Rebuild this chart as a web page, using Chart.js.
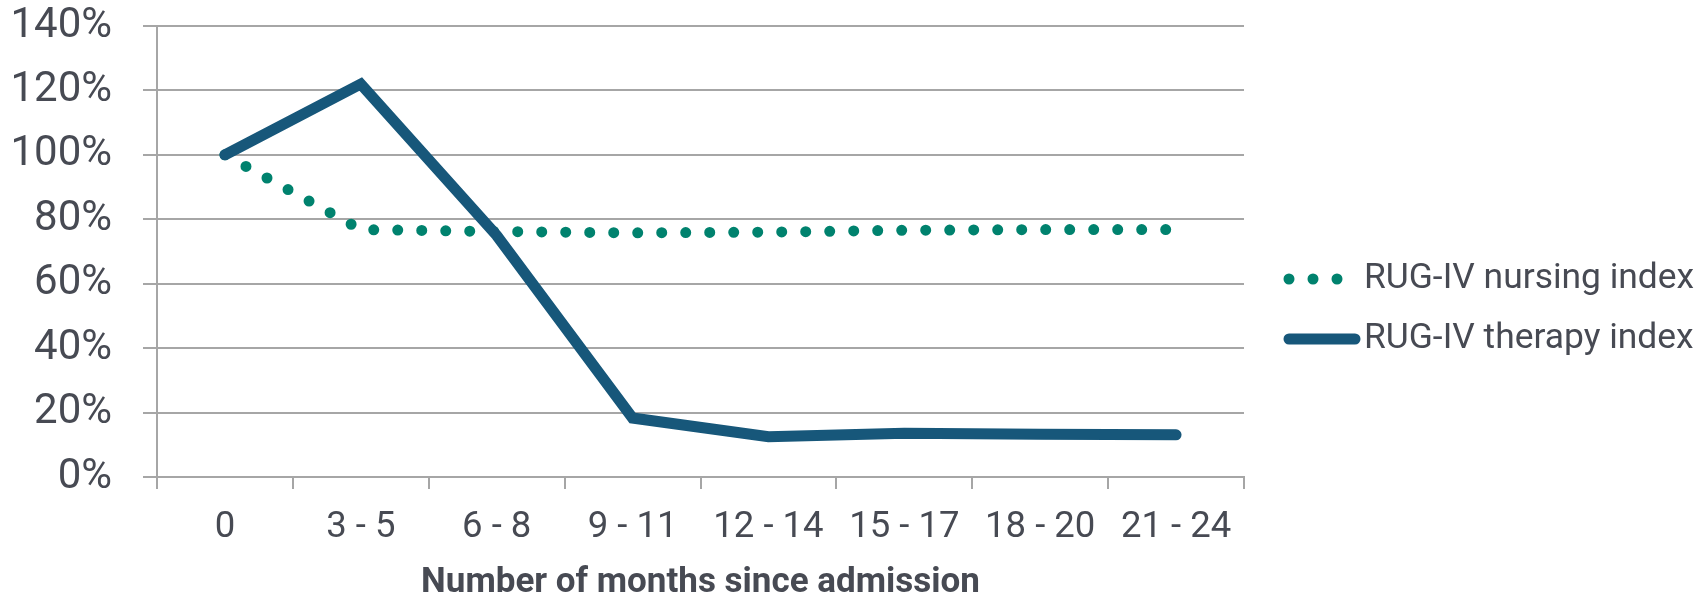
<!DOCTYPE html>
<html>
<head>
<meta charset="utf-8">
<script src="https://cdn.jsdelivr.net/npm/chart.js@4"></script>
<style>
  html, body { margin: 0; padding: 0; background: #fff; }
  #wrap { width: 1707px; height: 595px; }
</style>
</head>
<body>
<div id="wrap"><canvas id="chart" width="1707" height="595"></canvas></div>
<script>
// chart data
const monthLabels = ['0', '3 - 5', '6 - 8', '9 - 11', '12 - 14', '15 - 17', '18 - 20', '21 - 24'];
const nursingIndex = [100, 76.8, 76.2, 75.8, 76.0, 76.6, 76.8, 76.8];
const therapyIndex = [100, 122, 75, 18.3, 12.5, 13.6, 13.3, 13.1];
const seriesNames = ['RUG-IV nursing index', 'RUG-IV therapy index'];
const yTicks = [0, 20, 40, 60, 80, 100, 120, 140];

const textColor = '#474a53';
const gridColor = '#a6a6a6';

// legend drawn by hand so the sample lines and spacing match the original
const sideLegend = {
  id: 'sideLegend',
  afterDraw(chart) {
    const ctx = chart.ctx;
    const left = chart.chartArea.right + 45;
    const midY = 309;
    const rowGap = 60;
    ctx.save();
    chart.data.datasets.forEach((ds, i) => {
      const y = midY + (i - 0.5) * rowGap;
      ctx.beginPath();
      ctx.strokeStyle = ds.borderColor;
      ctx.lineWidth = ds.borderWidth;
      ctx.lineCap = 'round';
      ctx.setLineDash(ds.borderDash || []);
      ctx.moveTo(left, y);
      ctx.lineTo(left + 66, y);
      ctx.stroke();
      ctx.setLineDash([]);
      ctx.fillStyle = textColor;
      ctx.font = '35.4px Roboto';
      ctx.textBaseline = 'middle';
      ctx.textAlign = 'left';
      ctx.fillText(ds.label, left + 75, y);
    });
    ctx.restore();
  }
};

function drawChart() {
  const ctx = document.getElementById('chart');
  new Chart(ctx, {
    type: 'line',
    data: {
      labels: monthLabels,
      datasets: [{
        label: seriesNames[0],
        data: nursingIndex,
        borderColor: '#00826e',
        backgroundColor: '#00826e',
        borderWidth: 11,
        borderDash: [0, 24],
        borderCapStyle: 'round',
        pointRadius: 0,
        order: 1
      }, {
        label: seriesNames[1],
        data: therapyIndex,
        borderColor: '#17577a',
        backgroundColor: '#17577a',
        borderWidth: 11,
        borderCapStyle: 'round',
        pointRadius: 0,
        order: 0
      }]
    },
    plugins: [sideLegend],
    options: {
      responsive: false,
      animation: false,
      layout: {
        padding: { top: 26, left: 0, right: 463, bottom: 0 }
      },
      plugins: {
        tooltip: { enabled: false },
        legend: { display: false }
      },
      scales: {
        x: {
          offset: true,
          afterFit: axis => {
            axis.height = 118;
            axis.paddingLeft = 0;
            axis.paddingRight = 0;
          },
          grid: {
            offset: true,
            drawOnChartArea: false,
            drawTicks: true,
            tickLength: 12,
            color: gridColor,
            lineWidth: 2
          },
          border: { display: true, color: gridColor, width: 2 },
          ticks: {
            color: textColor,
            padding: 17,
            maxRotation: 0,
            font: { family: 'Roboto', size: 36.5 }
          },
          title: {
            display: true,
            text: 'Number of months since admission',
            color: textColor,
            padding: 0,
            font: { family: 'Roboto', size: 35, weight: 'bold', lineHeight: 0.7 }
          }
        },
        y: {
          min: yTicks[0],
          max: yTicks[yTicks.length - 1],
          afterBuildTicks: axis => { axis.ticks = yTicks.map(v => ({ value: v })); },
          afterFit: axis => {
            axis.width = 157;
            axis.paddingTop = 0;
            axis.paddingBottom = 0;
          },
          grid: {
            color: gridColor,
            lineWidth: 2,
            tickLength: 14
          },
          border: { display: true, color: gridColor, width: 2 },
          ticks: {
            color: textColor,
            padding: 31,
            font: { family: 'Roboto', size: 42, lineHeight: 1 },
            callback: v => v + '%'
          }
        }
      }
    }
  });
}

document.fonts.load('35.4px Roboto').then(() => document.fonts.load('bold 35px Roboto')).then(drawChart, drawChart);
</script>
</body>
</html>
